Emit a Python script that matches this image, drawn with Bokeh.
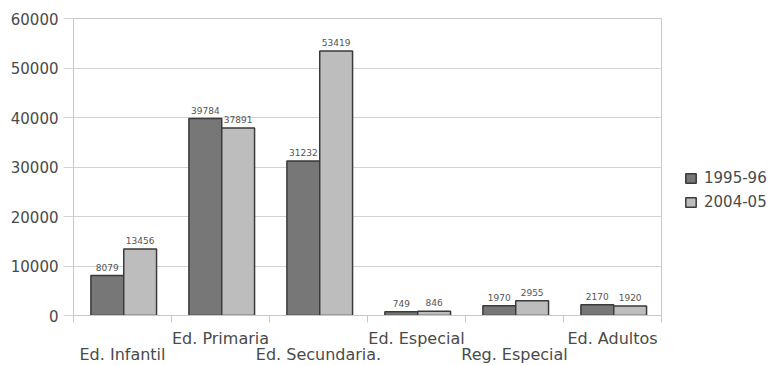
from bokeh.plotting import figure
from bokeh.models import (FactorRange, Range1d, LinearAxis, FixedTicker, Legend, LegendItem,
                          ColumnDataSource, NumeralTickFormatter, LabelSet)
from bokeh.core.properties import value
from bokeh.transform import dodge
from bokeh.embed import file_html
from bokeh.resources import INLINE

categories = ["Ed. Infantil", "Ed. Primaria", "Ed. Secundaria.", "Ed. Especial", "Reg. Especial", "Ed. Adultos"]
series = ["1995-96", "2004-05"]
v1995 = [8079, 39784, 31232, 749, 1970, 2170]
v2004 = [13456, 37891, 53419, 846, 2955, 1920]
y_ticks = [0, 10000, 20000, 30000, 40000, 50000, 60000]

FONT = "DejaVu Sans"
TXT = "#4a4a4a"
GRID = "#d2d2d2"
DARK = "#777777"
LIGHT = "#bdbdbd"
EDGE = "#3a3a3a"

src = ColumnDataSource(dict(cat=categories, a=v1995, b=v2004,
                            la=[str(v) for v in v1995], lb=[str(v) for v in v2004]))

p = figure(x_range=FactorRange(*categories), y_range=Range1d(0, 60000),
           frame_width=588, frame_height=297, x_axis_location=None,
           output_backend="svg", toolbar_location=None,
           min_border_left=73, min_border_top=18, min_border_right=102, min_border_bottom=0)
p.x_range.range_padding = 0
p.background_fill_color = "white"
p.border_fill_color = "white"
p.outline_line_color = "#c8c8c8"
p.xgrid.grid_line_color = None
p.ygrid.grid_line_color = GRID
p.ygrid.ticker = FixedTicker(ticks=y_ticks)

ya = p.yaxis[0]
ya.ticker = FixedTicker(ticks=y_ticks)
ya.formatter = NumeralTickFormatter(format="0")
ya.axis_line_color = "#c8c8c8"
ya.major_tick_line_color = GRID
ya.major_tick_out = 10
ya.major_tick_in = 0
ya.minor_tick_line_color = None
ya.major_label_text_font = FONT
ya.major_label_text_font_size = "15px"
ya.major_label_text_color = TXT
ya.major_label_standoff = 5

r1 = p.vbar(x=dodge("cat", -0.155, range=p.x_range), top="a", width=0.335, source=src,
            fill_color=DARK, line_color=EDGE, line_width=1.5)
r2 = p.vbar(x=dodge("cat", 0.18, range=p.x_range), top="b", width=0.335, source=src,
            fill_color=LIGHT, line_color=EDGE, line_width=1.5)

for col, off in (("la", -0.155), ("lb", 0.18)):
    ycol = "a" if col == "la" else "b"
    p.add_layout(LabelSet(x=dodge("cat", off, range=p.x_range), y=ycol, text=col, source=src,
                          text_align="center", text_baseline="bottom", y_offset=5,
                          text_font=value(FONT), text_font_size=value("9px"),
                          text_color=value("#555555")))

# category positions on the factor range: centres at i+0.5, boundaries at i
axA = LinearAxis(ticker=FixedTicker(ticks=[1.5, 3.5, 5.5], minor_ticks=[0, 1, 2, 3, 4, 5, 6]),
                 major_label_overrides={1.5: categories[1], 3.5: categories[3], 5.5: categories[5]},
                 major_tick_line_color=None, major_tick_out=7, major_tick_in=0,
                 minor_tick_line_color="#c8c8c8", minor_tick_out=7, minor_tick_in=0,
                 axis_line_color="#c8c8c8", major_label_standoff=6,
                 major_label_text_font=FONT, major_label_text_font_size="16px",
                 major_label_text_color=TXT)
axB = LinearAxis(ticker=FixedTicker(ticks=[0.5, 2.5, 4.5]),
                 major_label_overrides={0.5: categories[0], 2.5: categories[2], 4.5: categories[4]},
                 major_tick_line_color=None, major_tick_out=0, major_tick_in=0,
                 minor_tick_line_color=None, axis_line_color=None, major_label_standoff=-6,
                 major_label_text_font=FONT, major_label_text_font_size="16px",
                 major_label_text_color=TXT)
p.add_layout(axA, "below")
p.add_layout(axB, "below")

legend = Legend(items=[LegendItem(label=series[0], renderers=[r1]),
                       LegendItem(label=series[1], renderers=[r2])],
                location=(23, 104), orientation="vertical",
                glyph_width=13, glyph_height=12, label_standoff=7, spacing=6,
                label_height=14, padding=0, margin=0, border_line_color=None,
                background_fill_alpha=0,
                label_text_font=FONT, label_text_font_size="15px", label_text_color=TXT)
p.add_layout(legend, "right")

open("out.html", "w").write(file_html(p, INLINE))
